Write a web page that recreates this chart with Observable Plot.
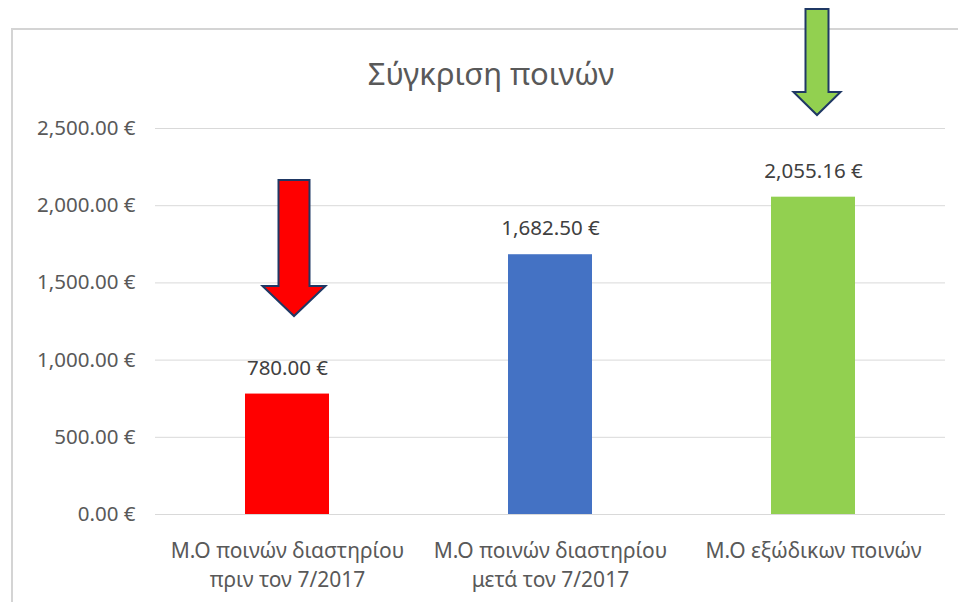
<!DOCTYPE html>
<html>
<head>
<meta charset="utf-8">
<script src="https://cdn.jsdelivr.net/npm/d3@7"></script>
<script src="https://cdn.jsdelivr.net/npm/@observablehq/plot@0.6"></script>
<style>
  html, body { margin: 0; padding: 0; background: #fff; }
  body { width: 958px; height: 602px; position: relative; overflow: hidden; font-family: "Noto Sans", sans-serif; }
  #frame { position: absolute; left: 11px; top: 28px; width: 960px; height: 600px;
           border-left: 2px solid #d4d4d4; border-top: 2px solid #d4d4d4; box-sizing: border-box; }
  #title { position: absolute; left: 12px; width: 958px; top: 53px; text-align: center;
           font-size: 31px; color: #595959; line-height: 40px; }
  #chart { position: absolute; left: 0; top: 0; }
</style>
</head>
<body>
<div id="frame"></div>
<div id="title">Σύγκριση ποινών</div>
<div id="chart"></div>
<script>
const categories = [
  "Μ.Ο ποινών διαστηρίου\nπριν τον 7/2017",
  "Μ.Ο ποινών διαστηρίου\nμετά τον 7/2017",
  "Μ.Ο εξώδικων ποινών"
];
const values = [780.00, 1682.50, 2055.16];
const valueLabels = ["780.00 €", "1,682.50 €", "2,055.16 €"];
const colors = ["#ff0000", "#4472c4", "#92d050"];
const yTicks = [0, 500, 1000, 1500, 2000, 2500];
const yTickLabels = ["0.00 €", "500.00 €", "1,000.00 €", "1,500.00 €", "2,000.00 €", "2,500.00 €"];
// annotation arrows (category index, top value, tip value)
const arrowCategory = [0, 2];
const arrowTop = [2163, 3271];
const arrowTip = [1282, 2584];

const data = categories.map((c, i) => ({cat: c, value: values[i], label: valueLabels[i], color: colors[i]}));

const chart = Plot.plot({
  width: 958,
  height: 602,
  marginLeft: 155,
  marginRight: 13,
  marginTop: 128,
  marginBottom: 88,
  style: {fontFamily: "'Noto Sans', sans-serif", background: "transparent"},
  x: {domain: categories, paddingInner: 0.68, paddingOuter: 0.34, label: null},
  y: {domain: [0, 2500], label: null},
  color: {type: "identity"},
  marks: [
    Plot.gridY(yTicks, {stroke: "#d9d9d9", strokeOpacity: 1, strokeWidth: 1}),
    Plot.barY(data, {x: "cat", y: "value", fill: "color"}),
    Plot.ruleY([0], {stroke: "#d9d9d9", strokeWidth: 1}),
    Plot.text(data, {x: "cat", y: "value", text: "label", dy: -26, fill: "#404040", fontSize: 20.5}),
    Plot.axisY({ticks: yTicks, tickFormat: (d) => yTickLabels[yTicks.indexOf(d)], tickSize: 0, tickPadding: 20,
      fontSize: 20.5, fill: "#595959"}),
    Plot.axisX({tickSize: 0, tickPadding: 23, fontSize: 21, lineHeight: 1.38, fill: "#595959"})
  ]
});
document.getElementById("chart").appendChild(chart);

// draw arrows using the chart's scales
const xs = chart.scale("x");
const ys = chart.scale("y");
const svg = d3.select(chart);
const arrowSpec = [
  {dx: 7, shaft: 31, head: 63, headLen: 30, fill: colors[0]},
  {dx: 4, shaft: 23, head: 47, headLen: 23, fill: colors[2]}
];
arrowCategory.forEach((ci, k) => {
  const s = arrowSpec[k];
  const cx = xs.apply(categories[ci]) + xs.bandwidth / 2 + s.dx;
  const yTop = ys.apply(arrowTop[k]);
  const yTip = ys.apply(arrowTip[k]);
  const yHead = yTip - s.headLen;
  const pts = [
    [cx - s.shaft / 2, yTop], [cx + s.shaft / 2, yTop], [cx + s.shaft / 2, yHead],
    [cx + s.head / 2, yHead], [cx, yTip], [cx - s.head / 2, yHead], [cx - s.shaft / 2, yHead]
  ];
  svg.append("path")
    .attr("d", "M" + pts.map(p => p.join(",")).join("L") + "Z")
    .attr("fill", s.fill)
    .attr("stroke", "#1f3864")
    .attr("stroke-width", 2)
    .attr("stroke-linejoin", "miter");
});
</script>
</body>
</html>
